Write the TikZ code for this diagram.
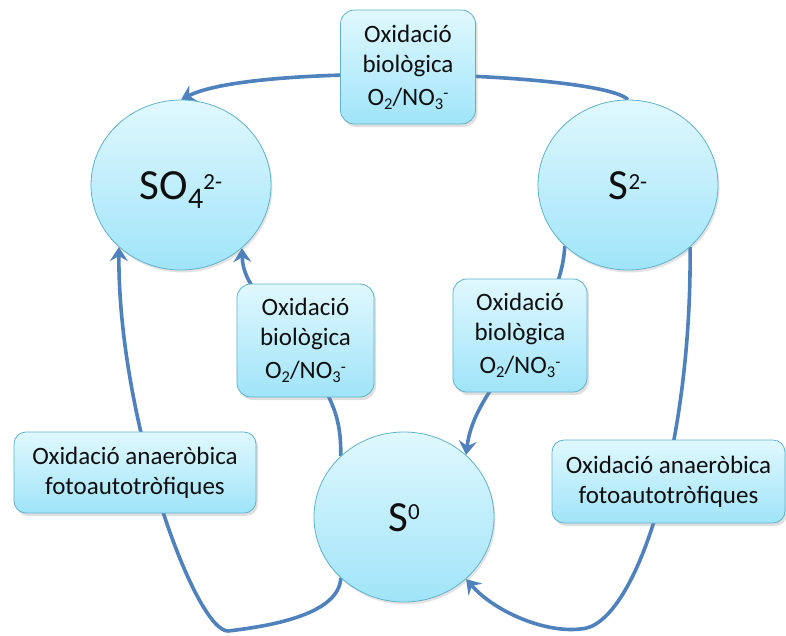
\documentclass[tikz,border=0pt]{standalone}
\usepackage{fontspec}
\setmainfont{Carlito}
\usetikzlibrary{arrows.meta,shapes.geometric,shadows}
\pgfdeclarelayer{bg}
\pgfsetlayers{bg,main}
\definecolor{linkblue}{RGB}{79,129,189}
\definecolor{cyantop}{RGB}{224,248,254}
\definecolor{cyanbot}{RGB}{160,228,249}
\definecolor{cyanedge}{RGB}{96,178,204}
\definecolor{txtcol}{RGB}{15,15,15}
\newcommand\boxsub[1]{\raisebox{-4pt}{\fontsize{16.5}{16}\selectfont #1}}
\newcommand\boxsup[1]{\raisebox{6.5pt}{\fontsize{16.5}{16}\selectfont #1}}
\newcommand\cirsub[1]{\raisebox{-9pt}{\fontsize{30}{30}\selectfont #1}}
\newcommand\cirsup[2]{\raisebox{#1}{\fontsize{23}{23}\selectfont #2}}
\begin{document}
\begin{tikzpicture}[x=1pt,y=-1pt,
  cir/.style={ellipse, draw=cyanedge, line width=0.8pt, top color=cyantop,
    bottom color=cyanbot, minimum width=180pt, minimum height=170pt,
    inner sep=0pt, text=txtcol, font=\fontsize{43}{43}\selectfont,
    text height=28pt, text depth=0pt,
    drop shadow={shadow xshift=1.5pt, shadow yshift=-2.5pt, opacity=0.22}},
  procbox/.style={rectangle, rounded corners=14pt, draw=cyanedge, line width=0.8pt,
    top color=cyantop, bottom color=cyanbot, inner sep=0pt, align=center,
    text=txtcol, font=\fontsize{25}{30}\selectfont,
    drop shadow={shadow xshift=2pt, shadow yshift=-3pt, opacity=0.25}},
  flow/.style={draw=linkblue, line width=3.6pt,
    -{Stealth[length=14pt,width=18pt,inset=5pt]}}]
\useasboundingbox (0,0) rectangle (786,635);

% circles
\node[cir] (so4) at (181,185) {SO\cirsub{4}\cirsup{9.5pt}{2-}};
\node[cir] (s2) at (628,185) {S\cirsup{10pt}{2-}};
\node[cir] (s0) at (404,517) {S\cirsup{12pt}{0}};

% boxes
\node[procbox, minimum width=135pt, minimum height=114pt] (btop) at (408,67)
  {Oxidació\\biològica\\[3pt]O\boxsub{2}/NO\boxsub{3}\boxsup{-}};
\node[procbox, minimum width=137pt, minimum height=113pt] (bleft) at (305.5,340.5)
  {Oxidació\\biològica\\[3pt]O\boxsub{2}/NO\boxsub{3}\boxsup{-}};
\node[procbox, minimum width=134pt, minimum height=113pt] (bright) at (520,335.5)
  {Oxidació\\biològica\\[3pt]O\boxsub{2}/NO\boxsub{3}\boxsup{-}};
\node[procbox, rounded corners=12pt, minimum width=242pt, minimum height=81pt] (bll) at (135,472.5)
  {Oxidació anaeròbica\\fotoautotròfiques};
\node[procbox, rounded corners=12pt, minimum width=233pt, minimum height=83pt] (brr) at (668.5,481.5)
  {Oxidació anaeròbica\\fotoautotròfiques};

% connectors
\begin{pgfonlayer}{bg}
\draw[flow] (s2.90) .. controls (600,72) and (255,62) .. (so4.90);
\draw[flow] (s0.136) .. controls (341,420) and (335,400) .. (300,350)
  .. controls (265,300) and (243,285) .. (so4.314.5);
\draw[flow] (s2.224.5) .. controls (560,330) and (475,380) .. (s0.45);
\draw[flow] (s0.224) .. controls (339,612) and (280,625) .. (228,631)
  .. controls (195,631) and (118,420) .. (so4.225);
\draw[flow] (s2.315) .. controls (692,450) and (635,628) .. (580,629)
  .. controls (545,633) and (495,612) .. (s0.315);
\end{pgfonlayer}
\end{tikzpicture}
\end{document}
